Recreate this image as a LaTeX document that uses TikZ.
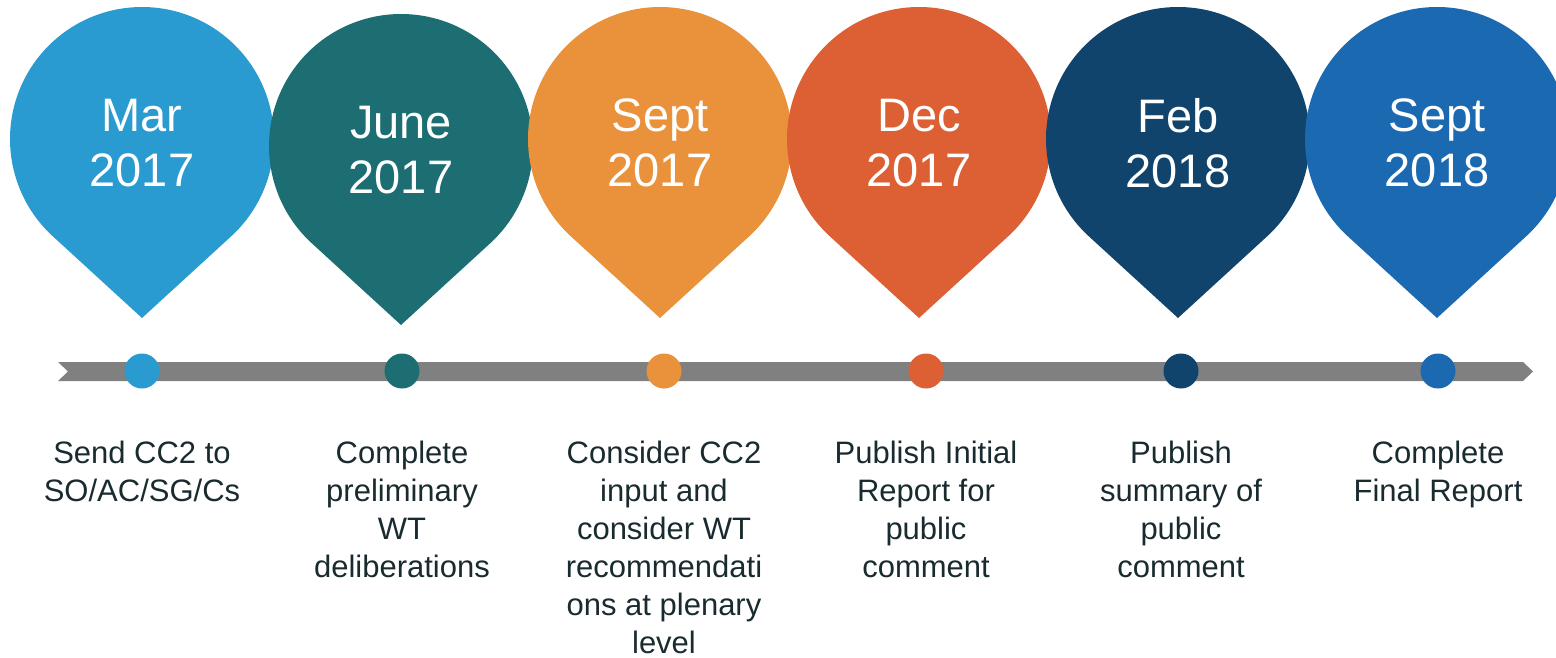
\documentclass[tikz,border=0pt]{standalone}
\usepackage{fontspec}
\setmainfont{Liberation Sans}
\usetikzlibrary{positioning,calc}

\definecolor{marblue}{HTML}{2A9BD1}
\definecolor{juneteal}{HTML}{1C6E72}
\definecolor{septorange}{HTML}{EA913B}
\definecolor{decorange}{HTML}{DC6034}
\definecolor{febnavy}{HTML}{10446D}
\definecolor{septblue}{HTML}{1B69B0}
\definecolor{bargray}{HTML}{808080}
\definecolor{labeltext}{HTML}{1A2B30}

\begin{document}
\begin{tikzpicture}[
    x=1pt, y=-1pt,
    pintext/.style={text=white, align=center, inner sep=0pt, font=\fontsize{47}{55}\selectfont},
    dot/.style={circle, minimum size=35pt, inner sep=0pt},
    lbl/.style={text=labeltext, align=center, inner sep=0pt, font=\fontsize{31}{38}\selectfont},
  ]
  \useasboundingbox (0,0) rectangle (1556,658);

  % pins, left to right so each one sits over the one before
  \foreach \i/\px/\py/\col/\mon/\yr in {1/142/139/marblue/Mar/2017, 2/401/146/juneteal/June/2017,
      3/660/139/septorange/Sept/2017, 4/919/139/decorange/Dec/2017,
      5/1178/139/febnavy/Feb/2018, 6/1437/139/septblue/Sept/2018}{
    \fill[\col] (\px,\py+179) -- ($(\px,\py)+(132.5:132)$)
      arc[start angle=132.5, end angle=407.5, radius=132] -- cycle;
    \node[pintext] (pin\i) at (\px,\py+4) {\mon\\\yr};
  }

  % time line
  \fill[bargray] (58,362) -- (1523,362) -- (1533,371.5) -- (1523,381)
    -- (58,381) -- (68,371.5) -- cycle;

  % dots and what happens at each
  \foreach \i/\dx/\col/\txt in {1/142/marblue/{Send CC2 to\\SO/AC/SG/Cs},
      2/402/juneteal/{Complete\\preliminary\\WT\\deliberations},
      3/664/septorange/{Consider CC2\\input and\\consider WT\\recommendati\\ons at plenary\\level},
      4/926/decorange/{Publish Initial\\Report for\\public\\comment},
      5/1181/febnavy/{Publish\\summary of\\public\\comment},
      6/1438/septblue/{Complete\\Final Report}}{
    \node[dot, fill=\col] (dot\i) at (\dx,371) {};
    \node[lbl, below=52pt of dot\i] (lbl\i) {\txt};
  }
\end{tikzpicture}
\end{document}
